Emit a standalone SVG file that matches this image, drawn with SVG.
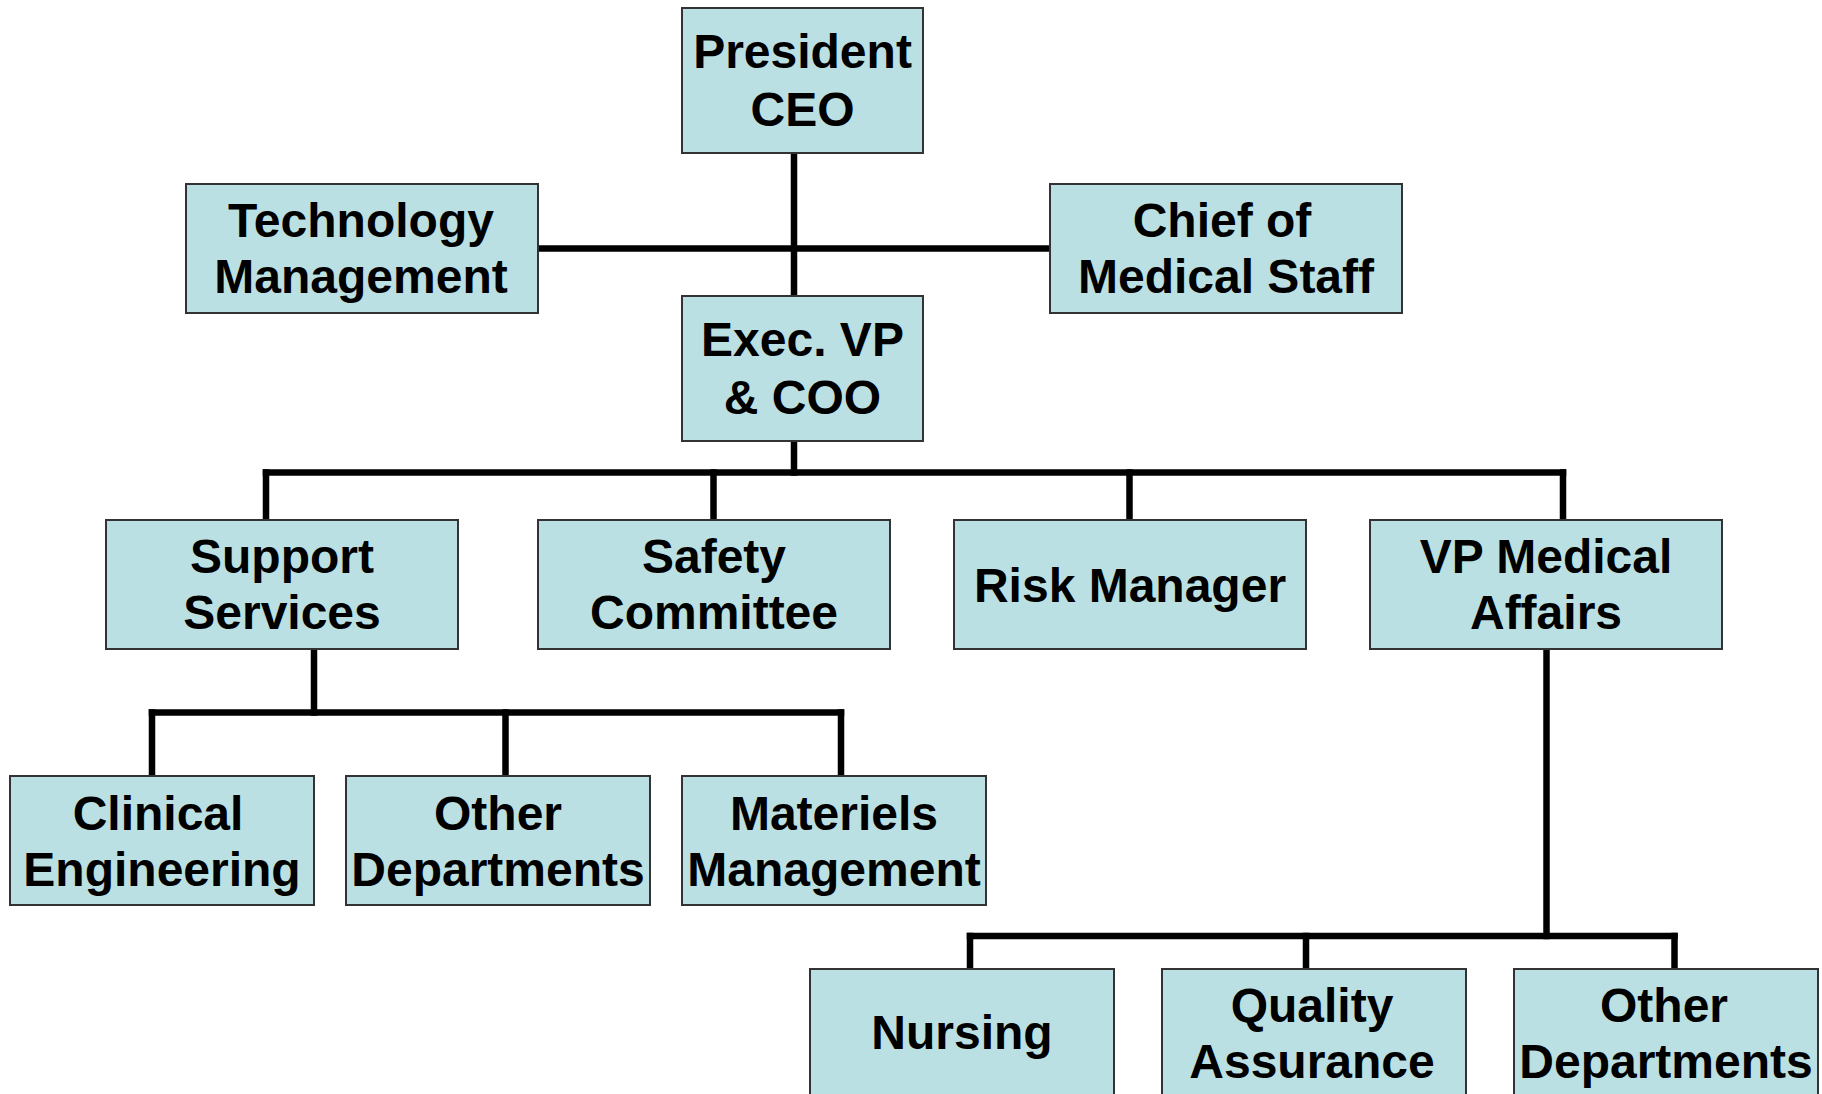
<svg xmlns="http://www.w3.org/2000/svg" width="1822" height="1094" viewBox="0 0 1822 1094">
<style>
.box{fill:#BBE0E3;stroke:#333333;stroke-width:2}
.t{font-family:"Liberation Sans",Arial,sans-serif;font-weight:bold;font-size:48px;fill:#000;text-anchor:middle}
.c{fill:none;stroke:#000;stroke-width:6.5;stroke-linecap:square}
</style>
<rect width="1822" height="1094" fill="#ffffff"/>
<g id="connectors">
<path class="c" d="M794,156 V293"/>
<path class="c" d="M541,248.5 H1047"/>
<path class="c" d="M794,444 V472.5"/>
<path class="c" d="M266,472.5 H1563"/>
<path class="c" d="M266,472.5 V517 M713.5,472.5 V517 M1129.5,472.5 V517 M1563,472.5 V517"/>
<path class="c" d="M314,652 V712.5"/>
<path class="c" d="M152,712.5 H841"/>
<path class="c" d="M152,712.5 V773 M505.5,712.5 V773 M841,712.5 V773"/>
<path class="c" d="M1546.5,652 V936"/>
<path class="c" d="M970,936 H1674.5"/>
<path class="c" d="M970,936 V966 M1306,936 V966 M1674.5,936 V966"/>
</g>
<g id="president"><rect class="box" x="682" y="8" width="241" height="145"/><text class="t" x="802.5" y="68">President</text><text class="t" x="802.5" y="126">CEO</text></g>
<g id="technology-management"><rect class="box" x="186" y="184" width="352" height="129"/><text class="t" x="361" y="237">Technology</text><text class="t" x="361" y="293">Management</text></g>
<g id="chief-medical-staff"><rect class="box" x="1050" y="184" width="352" height="129"/><text class="t" x="1222" y="237">Chief of</text><text class="t" x="1226" y="293">Medical Staff</text></g>
<g id="exec-vp"><rect class="box" x="682" y="296" width="241" height="145"/><text class="t" x="802.5" y="356">Exec. VP</text><text class="t" x="802.5" y="414">&amp; COO</text></g>
<g id="support-services"><rect class="box" x="106" y="520" width="352" height="129"/><text class="t" x="282" y="573">Support</text><text class="t" x="282" y="629">Services</text></g>
<g id="safety-committee"><rect class="box" x="538" y="520" width="352" height="129"/><text class="t" x="714" y="573">Safety</text><text class="t" x="714" y="629">Committee</text></g>
<g id="risk-manager"><rect class="box" x="954" y="520" width="352" height="129"/><text class="t" x="1130" y="602">Risk Manager</text></g>
<g id="vp-medical-affairs"><rect class="box" x="1370" y="520" width="352" height="129"/><text class="t" x="1546" y="573">VP Medical</text><text class="t" x="1546" y="629">Affairs</text></g>
<g id="clinical-engineering"><rect class="box" x="10" y="776" width="304" height="129"/><text class="t" x="158" y="830">Clinical</text><text class="t" x="162" y="886">Engineering</text></g>
<g id="other-departments-1"><rect class="box" x="346" y="776" width="304" height="129"/><text class="t" x="498" y="830">Other</text><text class="t" x="498" y="886">Departments</text></g>
<g id="materiels-management"><rect class="box" x="682" y="776" width="304" height="129"/><text class="t" x="834" y="830">Materiels</text><text class="t" x="834" y="886">Management</text></g>
<g id="nursing"><rect class="box" x="810" y="969" width="304" height="129"/><text class="t" x="962" y="1049">Nursing</text></g>
<g id="quality-assurance"><rect class="box" x="1162" y="969" width="304" height="129"/><text class="t" x="1312" y="1022">Quality</text><text class="t" x="1312" y="1078">Assurance</text></g>
<g id="other-departments-2"><rect class="box" x="1514" y="969" width="304" height="129"/><text class="t" x="1664" y="1022">Other</text><text class="t" x="1666" y="1078">Departments</text></g>
</svg>
